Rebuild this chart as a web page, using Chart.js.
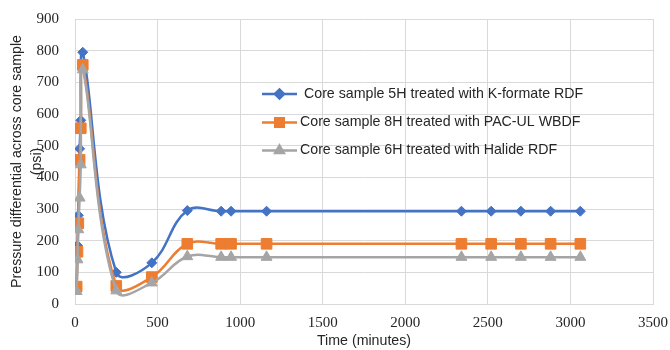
<!DOCTYPE html>
<html>
<head>
<meta charset="utf-8">
<script src="https://cdn.jsdelivr.net/npm/chart.js@4/dist/chart.umd.min.js"></script>
<style>
  html, body { margin: 0; padding: 0; background: #fff; }
  #wrap { width: 670px; height: 350px; }
</style>
</head>
<body>
<div id="wrap"><canvas id="chart"></canvas></div>
<script>
// time in minutes and pressure differential in psi
const seriesNames = [
  "Core sample 5H treated with K-formate RDF",
  "Core sample 8H treated with PAC-UL WBDF",
  "Core sample 6H treated with Halide RDF",
];
const timeMin = [10, 15, 20, 28, 35, 47, 250, 465, 680, 885, 945, 1160, 2340, 2520, 2700, 2880, 3060];
const kFormate = [50, 185, 280, 490, 580, 795, 100, 130, 295, 293, 293, 293, 293, 293, 293, 293, 293];
const pacUl = [55, 165, 255, 455, 555, 755, 57, 85, 190, 190, 190, 190, 190, 190, 190, 190, 190];
const halide = [40, 140, 235, 335, 440, 740, 42, 67, 150, 148, 148, 148, 148, 148, 148, 148, 148];

const colors = ["#4472C4", "#ED7D31", "#A5A5A5"];
const markers = ["rectRot", "rect", "triangle"];
const markerSizes = [5, 7.5, 6.3];

const toPoints = (ys) => ys.map((y, i) => ({ x: timeMin[i], y }));

const legendPlugin = {
  id: "insideLegend",
  afterDraw(chart) {
    const { ctx } = chart;
    const rows = [94, 122.5, 150.5];
    const textX = [304, 300, 300];
    const legendSizes = [4.5, 6, 5];
    ctx.save();
    rows.forEach((y, i) => {
      ctx.strokeStyle = colors[i];
      ctx.lineWidth = 2.5;
      ctx.beginPath();
      ctx.moveTo(262, y);
      ctx.lineTo(297, y);
      ctx.stroke();
      ctx.fillStyle = colors[i];
      Chart.helpers.drawPoint(ctx, {
        pointStyle: markers[i],
        radius: legendSizes[i],
        borderWidth: 1,
      }, 279.5, y);
      ctx.fill();
      ctx.fillStyle = "#262626";
      ctx.font = "14.2px 'Liberation Sans'";
      ctx.textBaseline = "middle";
      ctx.textAlign = "left";
      ctx.fillText(seriesNames[i], textX[i], y);
    });
    ctx.restore();
  },
};

const datasets = [kFormate, pacUl, halide].map((ys, i) => ({
  label: seriesNames[i],
  data: toPoints(ys),
  showLine: true,
  borderColor: colors[i],
  backgroundColor: colors[i],
  pointBackgroundColor: colors[i],
  pointBorderColor: colors[i],
  pointStyle: markers[i],
  pointRadius: markerSizes[i],
  pointBorderWidth: 1,
  borderWidth: 2.5,
  tension: 0.4,
  order: 2 - i,
}));

new Chart(document.getElementById("chart"), {
  type: "scatter",
  data: { datasets },
  options: {
    responsive: true,
    maintainAspectRatio: false,
    animation: false,
    layout: { padding: { top: 19, right: 17, left: 0, bottom: 0 } },
    plugins: {
      legend: { display: false },
      tooltip: { enabled: false },
    },
    scales: {
      x: {
        type: "linear",
        min: 0,
        max: 3500,
        afterFit: (scale) => {
          scale.height = 46;
          scale.paddingLeft = 0;
          scale.paddingRight = 0;
        },
        grid: { color: "#d9d9d9", drawTicks: false },
        border: { color: "#d9d9d9" },
        ticks: {
          stepSize: 500,
          color: "#262626",
          padding: 10,
          maxRotation: 0,
          callback: (value) => String(value),
          font: { family: "'Liberation Serif'", size: 15 },
        },
        title: {
          display: true,
          text: "Time (minutes)",
          color: "#262626",
          padding: 0,
          font: { family: "'Liberation Sans'", size: 14.2, lineHeight: 1.3 },
        },
      },
      y: {
        min: 0,
        max: 900,
        afterFit: (scale) => {
          scale.width = 75;
          scale.paddingTop = 0;
          scale.paddingBottom = 0;
        },
        grid: { color: "#d9d9d9", drawTicks: false },
        border: { color: "#d9d9d9" },
        ticks: {
          stepSize: 100,
          color: "#262626",
          padding: 16,
          callback: (value) => String(value),
          font: { family: "'Liberation Serif'", size: 15 },
        },
        title: {
          display: true,
          text: ["Pressure differential across core sample", "(psi)"],
          color: "#262626",
          padding: { top: 7, bottom: 0 },
          font: { family: "'Liberation Sans'", size: 14.2, lineHeight: 1.4 },
        },
      },
    },
  },
  plugins: [legendPlugin],
});
</script>
</body>
</html>
